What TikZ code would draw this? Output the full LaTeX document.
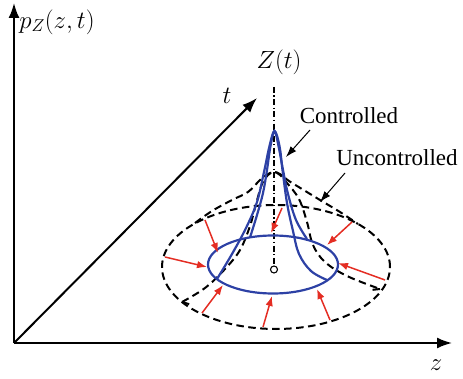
\documentclass[tikz,border=0pt]{standalone}
\usepackage{fontspec}
\setmainfont{Liberation Serif}
\usetikzlibrary{arrows.meta}
\definecolor{cblue}{RGB}{45,65,165}
\definecolor{cred}{RGB}{228,45,35}
\begin{document}
\begin{tikzpicture}[x=1pt,y=-1pt,
 axis/.style={line width=2pt,-{Latex[length=15pt,width=11pt]}},
 lbl/.style={inner sep=0pt,font=\fontsize{23}{27}\selectfont},
 blueline/.style={cblue,line width=2.2pt},
 udash/.style={line width=2pt,dash pattern=on 7.5pt off 4.5pt},
 redarr/.style={cred,line width=1.5pt,-{Latex[length=10pt,width=7.5pt]}},
 callout/.style={line width=1pt,-{Latex[length=11pt,width=7.5pt]}},
 axisline/.style={line width=1.1pt,dash pattern=on 6pt off 2.5pt on 1.2pt off 2.5pt}]
\useasboundingbox (0,0) rectangle (463,379);

% axes
\coordinate (O) at (14,343);
\coordinate (ytip) at (14,3);
\coordinate (xtip) at (452,343);
\coordinate (ttip) at (257,98);
\draw[axis] (O) -- (ytip);
\draw[axis] (O) -- (xtip);
\draw[axis] (O) -- (ttip);

% labels
\node[lbl] (pz) at (57,22) {$p_Z(z,t)$};
\node[lbl] (Zt) at (279,62) {$Z(t)$};
\node[lbl] (tl) at (227,96) {$t$};
\node[lbl] (zl) at (436,365) {$z$};
\node[lbl] (ctl) at (349,116) {Controlled};
\node[lbl] (unc) at (397,158) {Uncontrolled};

% mean line
\coordinate (ztop) at (274,87);
\coordinate (zbot) at (274,266);
\draw[axisline] (ztop) -- (zbot);

% uncontrolled (dashed)
\draw[udash] (276,267) ellipse [x radius=114pt, y radius=62pt];
\draw[udash] plot[smooth,tension=0.6] coordinates {(195,223) (212,211) (232,200) (248,192) (260,180) (268,174) (274,172) (280,174) (289,181) (302,189) (320,200) (340,212) (358,224)};
\draw[udash] plot[smooth,tension=0.6] coordinates {(182,302) (205,288) (225,269) (240,250) (250,226) (256,204) (262,184) (268,175) (274,172) (280,175) (287,183) (299,199) (307,222) (313,245) (325,262) (347,276) (380,289)};
\draw[udash] (182,302) -- (192,305);
\draw[udash] (380,289) -- (371,290);

% controlled (blue)
\draw[blueline] (273,264.5) ellipse [x radius=65pt, y radius=29pt];
\draw[blueline] plot[smooth,tension=0.6] coordinates {(250,237.5) (257,215) (263,193) (267,170) (270.5,146) (274.5,131) (278.5,146) (283,170) (288,194) (296,220) (307,239)};
\draw[blueline] plot[smooth,tension=0.6] coordinates {(217,279) (232,254) (246,228) (257,202) (264,172) (269.5,146) (274.5,131) (279.5,146) (282.5,170) (287,203) (293,231) (299,254) (311,271) (327,280)};

% centre marker
\node[draw,circle,fill=white,line width=1.1pt,minimum size=7pt,inner sep=0pt] (ctr) at (274,269.5) {};

% red contraction arrows
\foreach \ax/\ay/\bx/\by [count=\i] in {205/220/218/253, 165/257/207/267, 202/313/223/285, 263/327/272/296, 282/208/271/233, 352/222/327/245, 385/280/338/263, 330/320/317/289}{
  \coordinate (rs\i) at (\ax,\ay);
  \coordinate (re\i) at (\bx,\by);
  \draw[redarr] (rs\i) -- (re\i);
}

% callouts
\coordinate (c1) at (310,130);
\coordinate (c2) at (286,157);
\coordinate (u1) at (345,173);
\coordinate (u2) at (320,202);
\draw[callout] (c1) -- (c2);
\draw[callout] (u1) -- (u2);
\end{tikzpicture}
\end{document}
